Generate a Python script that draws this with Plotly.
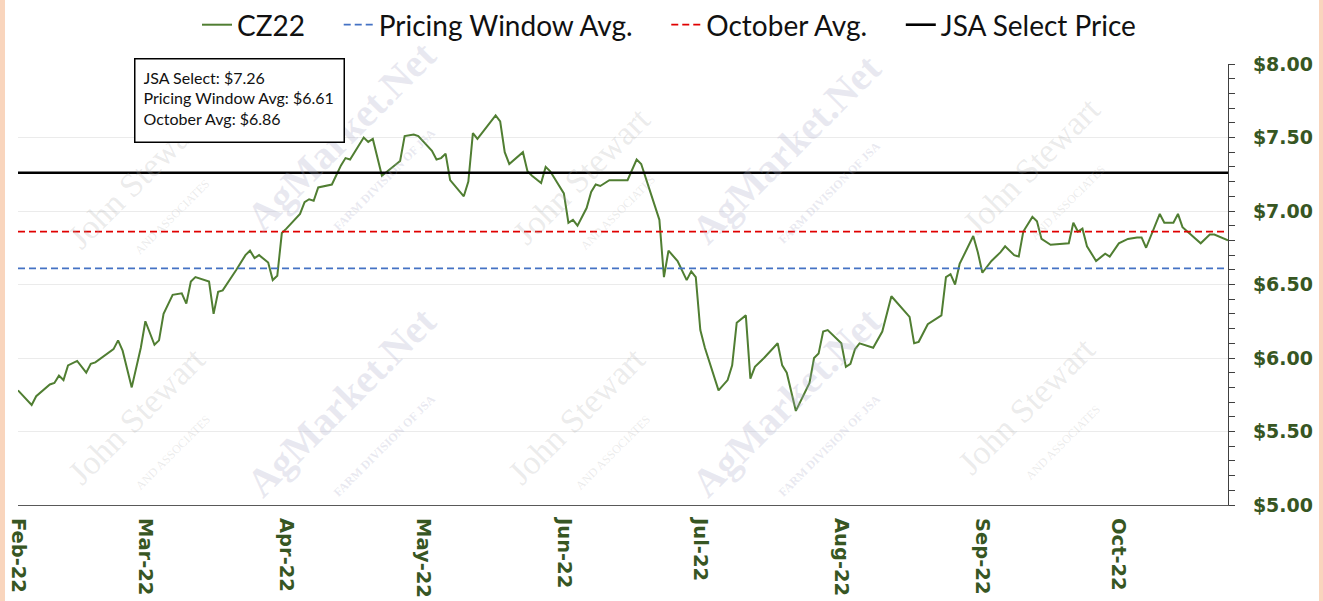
import plotly.graph_objects as go

# ---- data ----
dates = [
    "2022-02-01", "2022-02-04", "2022-02-05", "2022-02-07", "2022-02-08", "2022-02-09",
    "2022-02-10", "2022-02-11", "2022-02-12", "2022-02-14", "2022-02-16", "2022-02-17",
    "2022-02-18", "2022-02-22", "2022-02-23", "2022-02-24", "2022-02-26", "2022-02-28",
    "2022-03-01", "2022-03-03", "2022-03-04", "2022-03-05", "2022-03-07", "2022-03-09",
    "2022-03-10", "2022-03-11", "2022-03-12", "2022-03-15", "2022-03-16", "2022-03-17",
    "2022-03-18", "2022-03-21", "2022-03-23", "2022-03-24", "2022-03-25", "2022-03-26",
    "2022-03-28", "2022-03-29", "2022-03-30", "2022-03-31", "2022-04-01", "2022-04-04",
    "2022-04-05", "2022-04-06", "2022-04-07", "2022-04-08", "2022-04-11", "2022-04-13",
    "2022-04-14", "2022-04-15", "2022-04-18", "2022-04-19", "2022-04-20", "2022-04-22",
    "2022-04-26", "2022-04-27", "2022-04-29", "2022-04-30", "2022-05-03", "2022-05-04",
    "2022-05-05", "2022-05-06", "2022-05-07", "2022-05-10", "2022-05-11", "2022-05-12",
    "2022-05-13", "2022-05-17", "2022-05-18", "2022-05-19", "2022-05-20", "2022-05-23",
    "2022-05-24", "2022-05-25", "2022-05-27", "2022-05-28", "2022-05-29", "2022-06-01",
    "2022-06-02", "2022-06-03", "2022-06-04", "2022-06-06", "2022-06-07", "2022-06-08",
    "2022-06-09", "2022-06-11", "2022-06-15", "2022-06-17", "2022-06-18", "2022-06-22",
    "2022-06-23", "2022-06-24", "2022-06-26", "2022-06-28", "2022-06-29", "2022-06-30",
    "2022-07-01", "2022-07-02", "2022-07-05", "2022-07-07", "2022-07-08", "2022-07-09",
    "2022-07-11", "2022-07-12", "2022-07-13", "2022-07-15", "2022-07-18", "2022-07-19",
    "2022-07-20", "2022-07-22", "2022-07-25", "2022-07-26", "2022-07-27", "2022-07-28",
    "2022-07-29", "2022-08-01", "2022-08-02", "2022-08-03", "2022-08-04", "2022-08-05",
    "2022-08-08", "2022-08-10", "2022-08-12", "2022-08-16", "2022-08-17", "2022-08-18",
    "2022-08-20", "2022-08-23", "2022-08-24", "2022-08-25", "2022-08-26", "2022-08-27",
    "2022-08-30", "2022-08-31", "2022-09-01", "2022-09-03", "2022-09-05", "2022-09-06",
    "2022-09-08", "2022-09-09", "2022-09-10", "2022-09-12", "2022-09-13", "2022-09-14",
    "2022-09-16", "2022-09-20", "2022-09-21", "2022-09-22", "2022-09-23", "2022-09-24",
    "2022-09-26", "2022-09-28", "2022-09-29", "2022-10-01", "2022-10-03", "2022-10-05",
    "2022-10-06", "2022-10-07", "2022-10-10", "2022-10-11", "2022-10-13", "2022-10-14",
    "2022-10-15", "2022-10-19", "2022-10-21", "2022-10-22", "2022-10-25",
]
cz22 = [
    5.78, 5.68, 5.74, 5.79, 5.82, 5.83,
    5.88, 5.85, 5.95, 5.98, 5.90, 5.96,
    5.97, 6.06, 6.12, 6.05, 5.80, 6.07,
    6.25, 6.09, 6.12, 6.30, 6.43, 6.44,
    6.37, 6.52, 6.55, 6.52, 6.30, 6.45,
    6.46, 6.60, 6.70, 6.73, 6.68, 6.70,
    6.65, 6.53, 6.56, 6.85, 6.88, 6.98,
    7.06, 7.08, 7.07, 7.16, 7.18, 7.31,
    7.36, 7.35, 7.50, 7.47, 7.49, 7.24,
    7.34, 7.51, 7.52, 7.51, 7.41, 7.35,
    7.36, 7.39, 7.21, 7.10, 7.20, 7.53,
    7.49, 7.65, 7.61, 7.40, 7.32, 7.40,
    7.27, 7.24, 7.19, 7.30, 7.27, 7.12,
    6.92, 6.94, 6.90, 7.02, 7.13, 7.18,
    7.17, 7.21, 7.21, 7.35, 7.32, 6.94,
    6.55, 6.73, 6.66, 6.53, 6.59, 6.55,
    6.19, 6.07, 5.78, 5.85, 5.95, 6.24,
    6.29, 5.86, 5.94, 6.00, 6.10, 5.95,
    5.90, 5.64, 5.83, 6.00, 6.03, 6.18,
    6.19, 6.10, 5.94, 5.96, 6.06, 6.10,
    6.07, 6.18, 6.42, 6.28, 6.10, 6.11,
    6.23, 6.29, 6.55, 6.57, 6.50, 6.64,
    6.83, 6.72, 6.58, 6.66, 6.72, 6.76,
    6.70, 6.69, 6.86, 6.96, 6.93, 6.81,
    6.77, 6.78, 6.92, 6.86, 6.88, 6.76,
    6.66, 6.71, 6.69, 6.78, 6.81, 6.82,
    6.82, 6.75, 6.98, 6.92, 6.92, 6.98,
    6.89, 6.78, 6.84, 6.84, 6.80,
]
jsa_select = 7.26
pricing_window_avg = 6.61
october_avg = 6.86
x_start, x_end = "2022-02-01", "2022-10-25"
y_min, y_max = 5.0, 8.0
series_names = ["CZ22", "Pricing Window Avg.", "October Avg.", "JSA Select Price"]
box_lines = [
    "JSA Select: $7.26",
    "Pricing Window Avg: $6.61",
    "October Avg: $6.86",
]

# ---- styles ----
GREEN = "#507E32"
TEXT_GREEN = "#375623"
PEACH = "#F9D5BD"
W, H = 1323, 601
ML, MR, MT, MB = 18, 95, 64, 96
PW, PH = W - ML - MR, H - MT - MB
PAD = "\u00a0" * 4


def px_to_paper_x(p):
    return (p - ML) / PW


def py_to_paper_y(p):
    return (H - MB - p) / PH


fig = go.Figure()
fig.add_trace(go.Scatter(x=dates, y=cz22, mode="lines", name=series_names[0] + PAD,
                         line=dict(color=GREEN, width=2)))
fig.add_trace(go.Scatter(x=[x_start, x_end], y=[pricing_window_avg] * 2, mode="lines",
                         name=series_names[1] + PAD,
                         line=dict(color="#4472C4", width=1.8, dash="7px,4px")))
fig.add_trace(go.Scatter(x=[x_start, x_end], y=[october_avg] * 2, mode="lines",
                         name=series_names[2] + PAD,
                         line=dict(color="#E00000", width=1.8, dash="7px,4px")))
fig.add_trace(go.Scatter(x=[x_start, x_end], y=[jsa_select] * 2, mode="lines",
                         name=series_names[3],
                         line=dict(color="#000000", width=2.6)))

# peach side strips: figure background peach, white panel on top
fig.add_shape(type="rect", xref="paper", yref="paper", layer="below",
              x0=px_to_paper_x(5), x1=px_to_paper_x(1319),
              y0=py_to_paper_y(H + 5), y1=py_to_paper_y(-5),
              fillcolor="white", line=dict(width=0))

# faint watermarks
wm_ag = [(357, 152), (802, 165), (357, 418), (802, 418)]
wm_js = [(150, 195), (595, 190), (1045, 180), (150, 430), (590, 430), (1040, 420)]
for (cx, cy) in wm_ag:
    fig.add_annotation(xref="paper", yref="paper", x=px_to_paper_x(cx), y=py_to_paper_y(cy),
                       xanchor="center", yanchor="middle",
                       text="AgMarket.Net<br><span style='font-size:12px'>FARM DIVISION OF JSA</span>",
                       showarrow=False, textangle=-45,
                       font=dict(family="Liberation Serif", size=40, color="rgba(165,165,195,0.25)",
                                 weight="bold"))
for (cx, cy) in wm_js:
    fig.add_annotation(xref="paper", yref="paper", x=px_to_paper_x(cx), y=py_to_paper_y(cy),
                       xanchor="center", yanchor="middle",
                       text="John Stewart<br><span style='font-size:12px'>AND ASSOCIATES</span>",
                       showarrow=False, textangle=-45,
                       font=dict(family="Liberation Serif", size=34, color="rgba(170,170,170,0.24)"))

# info box
fig.add_annotation(xref="paper", yref="paper", x=px_to_paper_x(134), y=py_to_paper_y(58),
                   xanchor="left", yanchor="top", align="left", valign="top",
                   text="<br>".join(box_lines), showarrow=False,
                   width=192, height=66, borderpad=8,
                   bgcolor="white", bordercolor="black", borderwidth=1.5,
                   font=dict(family="Lato", size=16, color="#111111"))

fig.update_layout(
    width=W, height=H,
    margin=dict(l=ML, r=MR, t=MT, b=MB, autoexpand=False),
    paper_bgcolor=PEACH, plot_bgcolor="white",
    showlegend=True,
    legend=dict(orientation="h", x=px_to_paper_x(669), xanchor="center",
                y=py_to_paper_y(25), yanchor="middle",
                font=dict(family="Lato", size=28, color="#111111"),
                bgcolor="rgba(0,0,0,0)", itemwidth=30, tracegroupgap=0),
    xaxis=dict(type="date", range=[x_start, x_end], showgrid=False,
               showline=True, linecolor="#595959", linewidth=1.2,
               ticks="", tick0="2022-02-01", dtick="M1", tickformat="%b-%y",
               tickangle=90, ticklabelstandoff=8,
               tickfont=dict(family="DejaVu Sans", size=19.5, color=TEXT_GREEN, weight="bold"),
               zeroline=False),
    yaxis=dict(range=[y_min, y_max], side="right", dtick=0.5, tick0=5,
               tickprefix="$", tickformat=".2f",
               showgrid=True, gridcolor="#EBEBEB", gridwidth=1,
               showline=True, linecolor="#404040", linewidth=1.2,
               ticks="outside", ticklen=6, tickcolor="#404040",
               minor=dict(dtick=0.1, ticks="outside", ticklen=6, tickcolor="#404040", showgrid=False),
               ticklabelstandoff=14,
               tickfont=dict(family="DejaVu Sans", size=19, color=TEXT_GREEN, weight="bold"),
               zeroline=False),
)

fig.write_html("out.html",
               config={"displayModeBar": False},
               post_script="document.body.style.margin='0px';document.body.style.padding='0px';"
                           "document.body.style.overflow='hidden';")
